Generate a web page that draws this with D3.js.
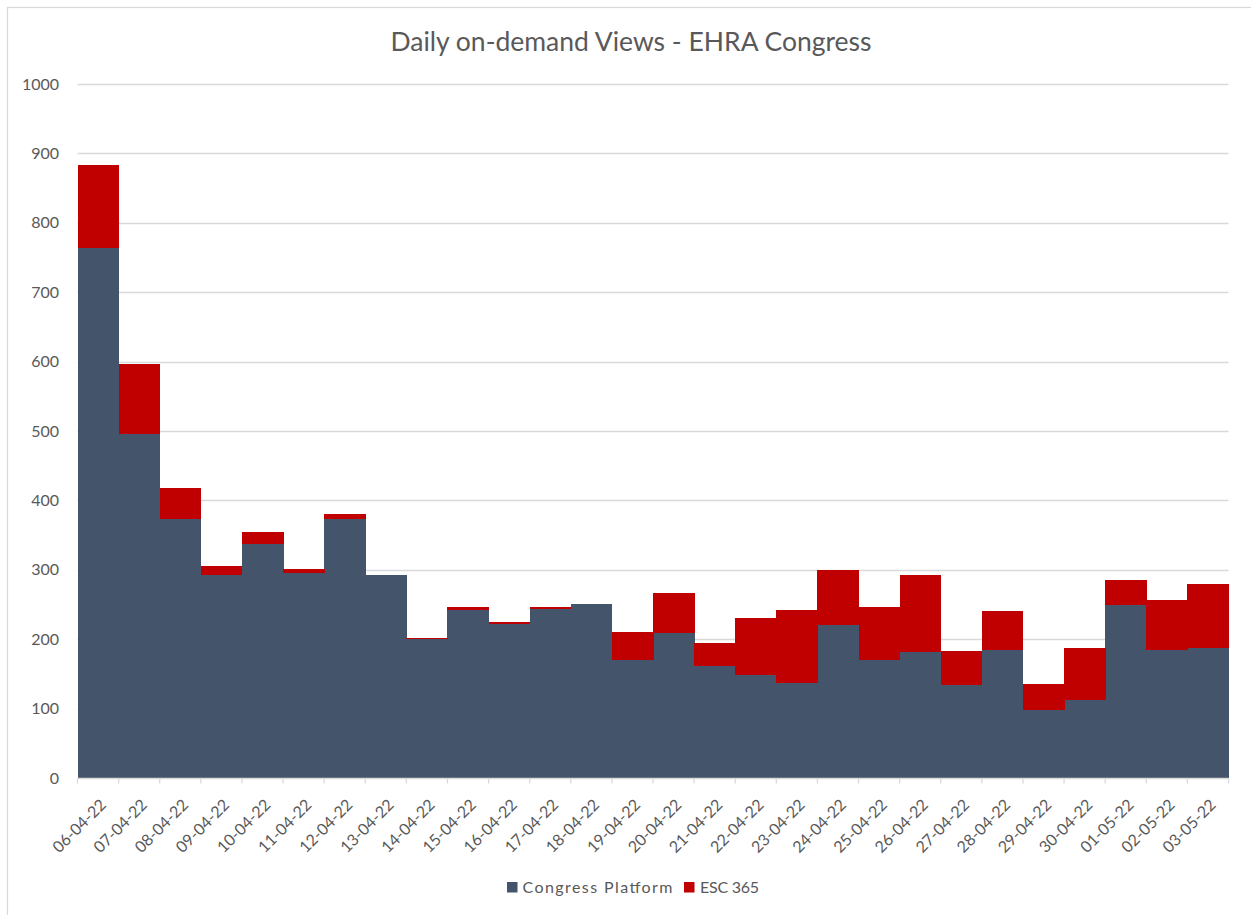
<!DOCTYPE html>
<html>
<head>
<meta charset="utf-8">
<script src="https://cdn.jsdelivr.net/npm/d3@7"></script>
<style>
  html, body { margin: 0; padding: 0; background: #fff; }
  svg { display: block; font-family: Lato, "Open Sans", sans-serif; }
</style>
</head>
<body>
<svg id="chart" width="1251" height="915"></svg>
<script>
const categories = ["06-04-22","07-04-22","08-04-22","09-04-22","10-04-22","11-04-22","12-04-22","13-04-22","14-04-22","15-04-22","16-04-22","17-04-22","18-04-22","19-04-22","20-04-22","21-04-22","22-04-22","23-04-22","24-04-22","25-04-22","26-04-22","27-04-22","28-04-22","29-04-22","30-04-22","01-05-22","02-05-22","03-05-22"];
const congressPlatform = [763,496,373,292,337,296,373,292,200,242,222,243,251,170,209,161,148,137,220,170,181,134,185,98,113,249,185,188];
const esc365 = [120,101,45,13,18,5,7,0,2,5,3,4,0,40,58,34,83,105,79,76,111,49,55,38,75,36,71,92];
const yTicks = [0,100,200,300,400,500,600,700,800,900,1000];
const seriesNames = ["Congress Platform","ESC 365"];
const colors = ["#44546A","#C00000"];

const svg = d3.select("#chart");
const W = 1251, H = 915;
const m = {left: 77.5, right: W - 1228.5, top: 84, bottom: H - 778};

// outer chart border (only top/left visible in frame)
svg.append("rect").attr("x", 7.5).attr("y", 7.5).attr("width", 1300).attr("height", 1000)
  .attr("fill", "none").attr("stroke", "#d9d9d9").attr("stroke-width", 1.2);

const x = d3.scaleBand().domain(categories).range([m.left, W - m.right]).padding(0);
const y = d3.scaleLinear().domain([0, 1000]).range([H - m.bottom, m.top]);

// gridlines
svg.append("g").selectAll("line").data(yTicks.filter(d => d > 0)).join("line")
  .attr("x1", m.left).attr("x2", W - m.right)
  .attr("y1", d => Math.round(y(d)) + 0.5).attr("y2", d => Math.round(y(d)) + 0.5)
  .attr("stroke", "#d9d9d9").attr("stroke-width", 1.3);

// y labels
svg.append("g").selectAll("text").data(yTicks).join("text")
  .attr("x", 59).attr("y", d => y(d)).attr("dy", "0.35em")
  .attr("text-anchor", "end").attr("font-size", 16).attr("fill", "#595959")
  .text(d => d);

// stacked data
const table = categories.map((c, i) => ({cat: c, a: congressPlatform[i], b: esc365[i]}));
const stack = d3.stack().keys(["a","b"])(table);

svg.append("g").attr("shape-rendering", "crispEdges").selectAll("g").data(stack).join("g")
  .attr("fill", (d, i) => colors[i])
  .selectAll("rect").data(d => d).join("rect")
  .attr("x", d => x(d.data.cat))
  .attr("width", x.bandwidth() + 0.5)
  .attr("y", d => y(d[1]))
  .attr("height", d => y(d[0]) - y(d[1]));

// x axis line
const axisY = Math.round(y(0)) + 0.5;
svg.append("line").attr("x1", m.left).attr("x2", W - m.right)
  .attr("y1", axisY).attr("y2", axisY).attr("stroke", "#d9d9d9").attr("stroke-width", 1.3);

// ticks at category boundaries
const bounds = categories.map(c => x(c)).concat([x(categories[categories.length - 1]) + x.bandwidth()]);
svg.append("g").selectAll("line").data(bounds).join("line")
  .attr("x1", d => d).attr("x2", d => d)
  .attr("y1", axisY).attr("y2", axisY + 5)
  .attr("stroke", "#d9d9d9").attr("stroke-width", 1.3);

// x labels rotated
svg.append("g").selectAll("text").data(categories).join("text")
  .attr("transform", d => `translate(${x(d) + x.bandwidth() / 2 + 5},${802}) rotate(-45)`)
  .attr("text-anchor", "end").attr("dy", "0.35em")
  .attr("font-size", 16).attr("fill", "#595959")
  .text(d => d);

// title
svg.append("text").attr("x", 631).attr("y", 51).attr("text-anchor", "middle")
  .attr("font-size", 26.5).attr("fill", "#595959")
  .text("Daily on-demand Views - EHRA Congress");

// legend
const lg = svg.append("g");
const legendItems = [
  {name: seriesNames[0], color: colors[0], sx: 507, tx: 522.5, w: 150},
  {name: seriesNames[1], color: colors[1], sx: 684, tx: 700, w: 59}
];
legendItems.forEach(it => {
  lg.append("rect").attr("x", it.sx).attr("y", 882).attr("width", 10.5).attr("height", 10.5).attr("fill", it.color);
  lg.append("text").attr("x", it.tx).attr("y", 887).attr("dy", "0.35em")
    .attr("font-size", 16).attr("fill", "#595959")
    .attr("textLength", it.w).attr("lengthAdjust", "spacing")
    .text(it.name);
});
</script>
</body>
</html>
